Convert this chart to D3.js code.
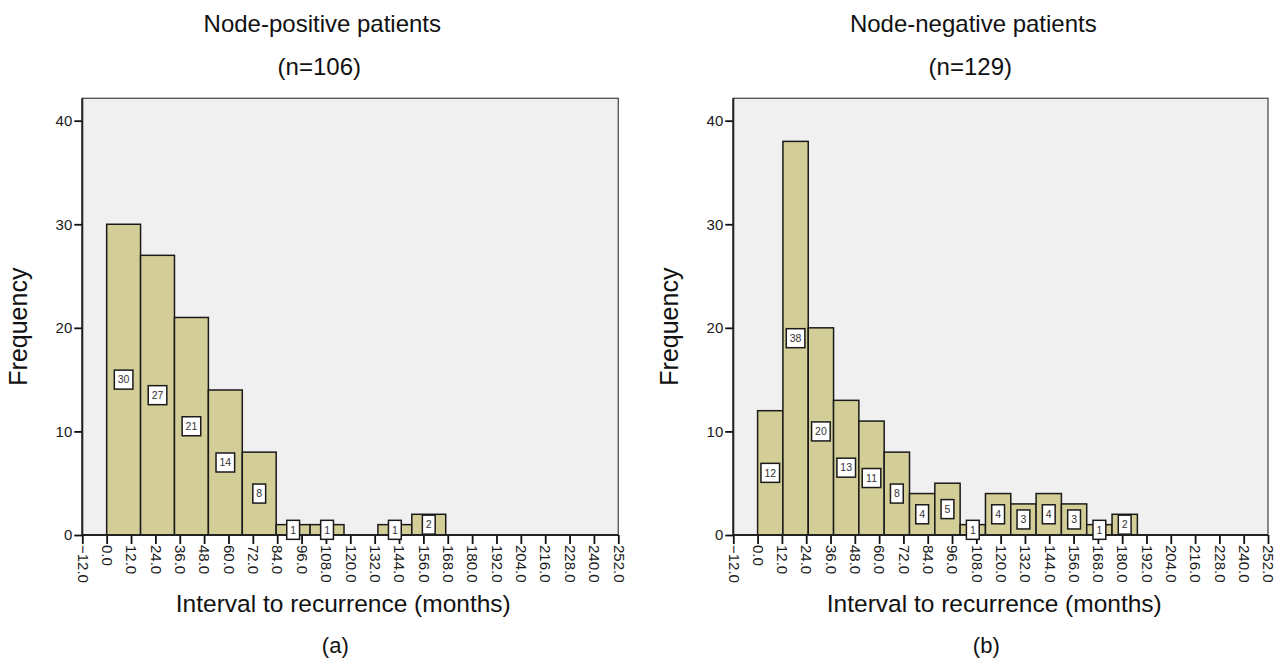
<!DOCTYPE html>
<html>
<head>
<meta charset="utf-8">
<script src="https://cdn.jsdelivr.net/npm/d3@7/dist/d3.min.js"></script>
<style>
  html, body { margin: 0; padding: 0; background: #ffffff; }
  svg { display: block; font-family: "Liberation Sans", Arial, sans-serif; }
</style>
</head>
<body>
<svg id="chart" width="1276" height="664"></svg>
<script>
// Recurrence-interval histograms: counts per bin, bins start at 0 months
const positiveCounts = [30, 27, 21, 14, 8, 1, 1, 0, 1, 2];
const negativeCounts = [12, 38, 20, 13, 11, 8, 4, 5, 1, 4, 3, 4, 3, 1, 2];
const positiveBinWidth = 16.7;   // months per bin
const negativeBinWidth = 12.5;   // months per bin

const xTickValues = [-12, 0, 12, 24, 36, 48, 60, 72, 84, 96, 108, 120, 132, 144,
                     156, 168, 180, 192, 204, 216, 228, 240, 252];
const yTickValues = [0, 10, 20, 30, 40];
const panelTitles = ["Node-positive patients", "Node-negative patients"];
const panelSizes = ["(n=106)", "(n=129)"];
const panelLetters = ["(a)", "(b)"];
const xAxisTitle = "Interval to recurrence (months)";
const yAxisTitle = "Frequency";

const svg = d3.select("#chart");

const panelLayout = [
  { left: 82.3, right: 618.3, counts: positiveCounts, binWidth: positiveBinWidth },
  { left: 733.3, right: 1268, counts: negativeCounts, binWidth: negativeBinWidth }
];
const plotTop = 98.3, plotBottom = 535;

const barFill = "#d3ce97";
const plotBg = "#f0f0f0";

panelLayout.forEach((p, i) => {
  const g = svg.append("g");

  const x = d3.scaleLinear().domain([-12, 252]).range([p.left, p.right]);
  const y = d3.scaleLinear().domain([0, 42.16]).range([plotBottom, plotTop]);

  // plot background and frame
  g.append("rect")
    .attr("x", p.left).attr("y", plotTop)
    .attr("width", p.right - p.left).attr("height", plotBottom - plotTop)
    .attr("fill", plotBg).attr("stroke", "#5a5a5a").attr("stroke-width", 1.4);

  const bins = p.counts.map((c, k) => ({ x0: k * p.binWidth, x1: (k + 1) * p.binWidth, count: c }))
                       .filter(b => b.count > 0);

  // bars
  g.selectAll("rect.bar").data(bins).join("rect")
    .attr("class", "bar")
    .attr("x", b => x(b.x0)).attr("width", b => x(b.x1) - x(b.x0))
    .attr("y", b => y(b.count)).attr("height", b => y(0) - y(b.count))
    .attr("fill", barFill).attr("stroke", "#1a1a1a").attr("stroke-width", 1.5);

  // y axis
  const yAxis = d3.axisLeft(y).tickValues(yTickValues).tickSize(8).tickPadding(2)
    .tickFormat(d3.format("d"));
  const ya = g.append("g").attr("transform", `translate(${p.left},0)`).call(yAxis);
  ya.select(".domain").remove();
  ya.selectAll(".tick line").attr("stroke", "#111").attr("stroke-width", 1.8);
  ya.selectAll(".tick text").attr("font-size", 15).attr("fill", "#1a1a1a")
    .attr("font-family", "Liberation Sans, Arial, sans-serif");
  g.append("line").attr("x1", p.left).attr("x2", p.left)
    .attr("y1", plotTop).attr("y2", plotBottom)
    .attr("stroke", "#222").attr("stroke-width", 2);

  // x axis with vertical tick labels
  const xAxis = d3.axisBottom(x).tickValues(xTickValues).tickSize(9).tickPadding(0)
    .tickFormat(d3.format(".1f"));
  const xa = g.append("g").attr("transform", `translate(0,${plotBottom})`).call(xAxis);
  xa.select(".domain").remove();
  xa.selectAll(".tick line").attr("stroke", "#111").attr("stroke-width", 1.8);
  xa.selectAll(".tick text")
    .attr("font-size", 15).attr("fill", "#1a1a1a")
    .attr("font-family", "Liberation Sans, Arial, sans-serif")
    .attr("transform", "rotate(90)")
    .attr("text-anchor", "start")
    .attr("x", 10).attr("y", 0).attr("dy", "0.35em");
  g.append("line").attr("x1", p.left).attr("x2", p.right)
    .attr("y1", plotBottom).attr("y2", plotBottom)
    .attr("stroke", "#222").attr("stroke-width", 1.8);

  // count labels at mid-height of each bar
  const labels = g.selectAll("g.lbl").data(bins).join("g")
    .attr("class", "lbl")
    .attr("transform", b => `translate(${x((b.x0 + b.x1) / 2)},${y(b.count / 2)})`);
  labels.append("rect")
    .attr("x", b => -(String(b.count).length * 5.8 + 7) / 2)
    .attr("width", b => String(b.count).length * 5.8 + 7)
    .attr("y", -9.5).attr("height", 19)
    .attr("fill", "#ffffff").attr("stroke", "#1a1a1a").attr("stroke-width", 1.5);
  labels.append("text")
    .attr("text-anchor", "middle").attr("dy", "0.36em")
    .attr("font-size", 10.5).attr("fill", "#333")
    .text(b => b.count);

  // titles
  const cx = p.left + 240;
  g.append("text").attr("x", cx).attr("y", 32).attr("text-anchor", "middle")
    .attr("font-size", 24).attr("fill", "#111").text(panelTitles[i]);
  g.append("text").attr("x", cx - 3).attr("y", 75).attr("text-anchor", "middle")
    .attr("font-size", 24).attr("fill", "#111").text(panelSizes[i]);

  // axis titles
  g.append("text").attr("x", p.left + 261).attr("y", 612).attr("text-anchor", "middle")
    .attr("font-size", 24.5).attr("fill", "#111").text(xAxisTitle);
  g.append("text")
    .attr("transform", `translate(${p.left - 55},${(plotTop + plotBottom) / 2 + 10}) rotate(-90)`)
    .attr("text-anchor", "middle")
    .attr("font-size", 25).attr("fill", "#111").text(yAxisTitle);
  g.append("text").attr("x", p.left + 253).attr("y", 653).attr("text-anchor", "middle")
    .attr("font-size", 22).attr("fill", "#111").text(panelLetters[i]);
});
</script>
</body>
</html>
